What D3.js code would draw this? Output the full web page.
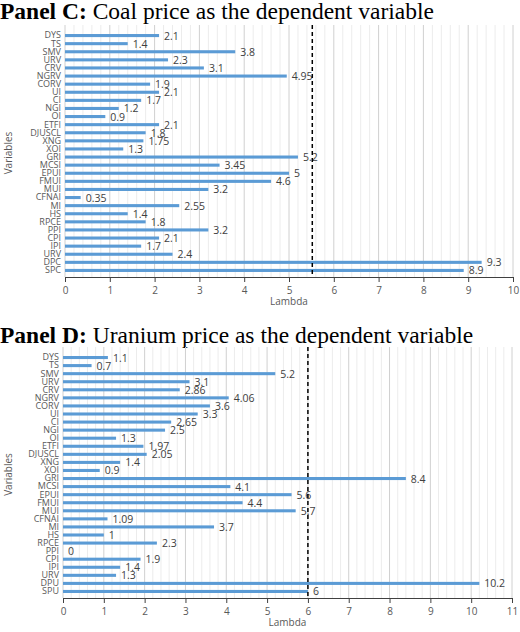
<!DOCTYPE html>
<html><head><meta charset="utf-8">
<script src="https://cdn.jsdelivr.net/npm/d3@7"></script>
<style>body{margin:0;background:#fff}svg text{font-family:"Open Sans",sans-serif}</style>
</head><body><svg id="chart"></svg>
<script>
const coalLabels = ["DYS","TS","SMV","URV","CRV","NGRV","CORV","UI","CI","NGI","OI","ETFI","DJUSCL","XNG","XOI","GRI","MCSI","EPUI","FMUI","MUI","CFNAI","MI","HS","RPCE","PPI","CPI","IPI","URV ","DPC","SPC"];
const coalValues = [2.1,1.4,3.8,2.3,3.1,4.95,1.9,2.1,1.7,1.2,0.9,2.1,1.8,1.75,1.3,5.2,3.45,5,4.6,3.2,0.35,2.55,1.4,1.8,3.2,2.1,1.7,2.4,9.3,8.9];
const uraniumLabels = ["DYS","TS","SMV","URV","CRV","NGRV","CORV","UI","CI","NGI","OI","ETFI","DJUSCL","XNG","XOI","GRI","MCSI","EPUI","FMUI","MUI","CFNAI","MI","HS","RPCE","PPI","CPI","IPI","URV ","DPU","SPU"];
const uraniumValues = [1.1,0.7,5.2,3.1,2.86,4.06,3.6,3.3,2.65,2.5,1.3,1.97,2.05,1.4,0.9,8.4,4.1,5.6,4.4,5.7,1.09,3.7,1,2.3,0,1.9,1.4,1.3,10.2,6];

const svg = d3.select("#chart").attr("width", 520).attr("height", 632);

function panel(cfg) {
    const g = svg.append("g");
    const x = d3.scaleLinear().domain([0, cfg.max]).range([cfg.left, cfg.right]);
    const y = d3.scaleBand().domain(cfg.labels).range([cfg.top, cfg.bottom]).padding(0.62);

    // title
    const t = g.append("text").attr("x", 0).attr("y", cfg.titleY)
        .style("font-family", "'Liberation Serif',serif").style("font-size", "23.5px").attr("fill", "#000");
    t.append("tspan").attr("font-weight", "bold").text(cfg.titleBold);
    t.append("tspan").text(cfg.title);

    // minor gridlines
    g.append("g").selectAll("line")
        .data(d3.range(0, cfg.max + 0.001, 0.2))
        .join("line")
        .attr("x1", d => x(d)).attr("x2", d => x(d))
        .attr("y1", cfg.top - 4).attr("y2", cfg.bottom)
        .attr("stroke", d => Math.abs(d - Math.round(d)) < 0.01 ? "#d0d0d0" : "#ececec")
        .attr("stroke-width", 1);

    g.selectAll(".bar").data(cfg.values).join("rect")
        .attr("x", x(0))
        .attr("y", (d, i) => y(cfg.labels[i]))
        .attr("width", d => x(d) - x(0))
        .attr("height", y.bandwidth())
        .attr("fill", "#5b9bd5");

    g.selectAll(".val").data(cfg.values).join("text")
        .attr("x", d => x(d) + 5)
        .attr("y", (d, i) => y(cfg.labels[i]) + y.bandwidth() / 2 + 4)
        .attr("font-size", 10.5).attr("fill", "#404040")
        .text(d => d);

    g.append("line").attr("x1", x(cfg.cut)).attr("x2", x(cfg.cut))
        .attr("y1", cfg.top - 4).attr("y2", cfg.bottom)
        .attr("stroke", "#000").attr("stroke-width", 1.5).attr("stroke-dasharray", "4,3");

    const yAxis = g.append("g").attr("transform", `translate(${cfg.left},0)`)
        .call(d3.axisLeft(y).tickSize(0).tickPadding(4));
    yAxis.select(".domain").remove();
    yAxis.selectAll("text").attr("font-size", 9).attr("fill", "#595959");

    const xAxis = g.append("g").attr("transform", `translate(0,${cfg.bottom})`)
        .call(d3.axisBottom(x).ticks(cfg.max).tickSize(5).tickPadding(5));
    xAxis.select(".domain").attr("stroke", "#404040");
    xAxis.selectAll("line").attr("stroke", "#404040");
    xAxis.selectAll("text").attr("font-size", 10).attr("fill", "#595959");

    g.append("text").attr("x", (cfg.left + cfg.right) / 2).attr("y", cfg.bottom + 28)
        .attr("text-anchor", "middle").attr("font-size", 10).attr("fill", "#595959").text("Lambda");
    g.append("text").attr("transform", `translate(12,${(cfg.top + cfg.bottom) / 2}) rotate(-90)`)
        .attr("text-anchor", "middle").attr("font-size", 10).attr("fill", "#595959").text("Variables");
}

panel({ labels: coalLabels, values: coalValues, max: 10, cut: 5.52, left: 65, right: 513,
    top: 29, bottom: 277, titleY: 19, titleBold: "Panel C:", title: " Coal price as the dependent variable" });
panel({ labels: uraniumLabels, values: uraniumValues, max: 11, cut: 6, left: 63, right: 512,
    top: 351, bottom: 598, titleY: 343, titleBold: "Panel D:", title: " Uranium price as the dependent variable" });
</script></body></html>
